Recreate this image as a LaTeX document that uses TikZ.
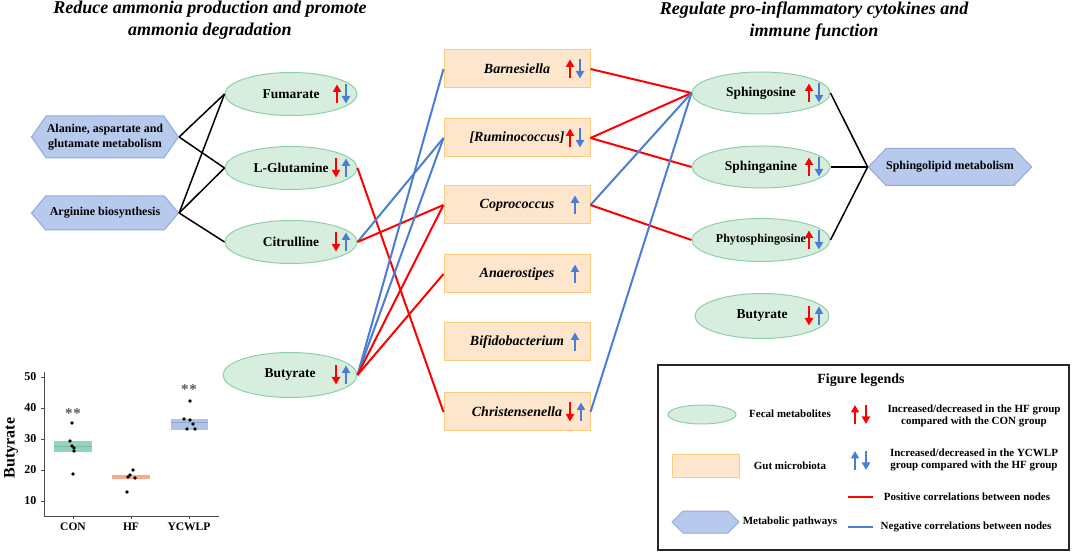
\documentclass[tikz,border=0pt]{standalone}
\usepackage{fontspec}
\setmainfont{Liberation Serif}
\usetikzlibrary{shapes.geometric,shapes.symbols,arrows.meta,calc}
\definecolor{metfill}{HTML}{D7EEDF}
\definecolor{metdraw}{HTML}{8DD0A6}
\definecolor{micfill}{HTML}{FDE6CC}
\definecolor{micdraw}{HTML}{F8CB80}
\definecolor{pwfill}{HTML}{B7C9EC}
\definecolor{pwdraw}{HTML}{8FAADC}
\definecolor{posred}{HTML}{FF0000}
\definecolor{negblue}{HTML}{4A7DD4}
\definecolor{conbox}{HTML}{7FCDB0}
\definecolor{hfbox}{HTML}{F8A98A}
\definecolor{ycbox}{HTML}{AFC3E8}
\newcommand\arrowUp[3]{\draw[glyph,#1] ($(#2)+(#3,9.5)$) -- ($(#2)+(#3,-9.5)$);}
\newcommand\arrowDn[3]{\draw[glyph,#1] ($(#2)+(#3,-9.5)$) -- ($(#2)+(#3,9.5)$);}
\begin{document}
\begin{tikzpicture}[x=1pt,y=-1pt,
  met/.style={ellipse,draw=metdraw,fill=metfill,line width=1pt,minimum width=132pt,minimum height=43pt,inner sep=0pt,font=\fontsize{13.5}{16}\selectfont\bfseries},
  mic/.style={rectangle,draw=micdraw,fill=micfill,line width=1pt,minimum width=146pt,minimum height=38pt,inner sep=0pt,font=\fontsize{14}{16}\selectfont\bfseries\itshape},
  pw/.style={signal,signal to=west and east,signal pointer angle=110,draw=pwdraw,fill=pwfill,line width=1pt,minimum width=147pt,minimum height=42pt,inner sep=0pt,align=center,font=\fontsize{12}{15}\selectfont\bfseries},
  poslink/.style={draw=posred,line width=2pt},
  neglink/.style={draw=negblue,line width=2pt},
  blk/.style={draw=black,line width=1.5pt},
  glyph/.style={line width=2.8pt,-{Triangle[width=8pt,length=7.5pt]}},
  ttl/.style={font=\fontsize{18}{21.5}\selectfont\bfseries\itshape,align=center},
  lt/.style={font=\fontsize{11}{11.8}\selectfont\bfseries,align=center},
  tk/.style={font=\fontsize{12}{14}\selectfont\bfseries},
]
\useasboundingbox (0,0) rectangle (1072,553);

% titles
\node[ttl] (t1) at (210,20) {Reduce ammonia production and promote\\ammonia degradation};
\node[ttl] (t2) at (814,21) {Regulate pro-inflammatory cytokines and\\immune function};

% pathways left
\node[pw] (aam) at (105,137) {Alanine, aspartate and\\glutamate metabolism};
\node[pw,minimum height=34pt,signal pointer angle=100] (arg) at (105,213) {Arginine biosynthesis};

% metabolites left
\node[met] (fum) at (291,94) {Fumarate};
\node[met] (glu) at (291,168) {L-Glutamine};
\node[met] (cit) at (291,242) {Citrulline};
\node[met,minimum width=134pt,minimum height=45pt] (but) at (290,375) {Butyrate};

% microbiota
\node[mic] (bar) at (517,69) {Barnesiella};
\node[mic] (rum) at (517,138) {[Ruminococcus]};
\node[mic] (cop) at (517,205) {Coprococcus};
\node[mic] (ana) at (517,274) {Anaerostipes};
\node[mic] (bif) at (517,342) {Bifidobacterium};
\node[mic] (chr) at (517,412) {Christensenella};

% metabolites right
\node[met,minimum width=138pt,minimum height=42pt] (sgo) at (761,93) {Sphingosine};
\node[met,minimum width=138pt,minimum height=42pt] (sga) at (761,167) {Sphinganine};
\node[met,minimum width=138pt,minimum height=43pt,font=\fontsize{12}{14}\selectfont\bfseries] (phy) at (761,240) {Phytosphingosine};
\node[met,minimum width=134pt,minimum height=45pt] (but2) at (762,316) {Butyrate};
\node[pw,minimum width=145pt,minimum height=37pt,signal pointer angle=92] (sph) at (950,167) {Sphingolipid metabolism};

% black pathway links
\draw[blk] (aam.east) -- (fum.west);
\draw[blk] (aam.east) -- (glu.west);
\draw[blk] (arg.east) -- (fum.west);
\draw[blk] (arg.east) -- (glu.west);
\draw[blk] (arg.east) -- (cit.west);
\draw[blk] (sgo.east) -- (sph.west);
\draw[blk] (sga.east) -- (sph.west);
\draw[blk] (phy.east) -- (sph.west);

% correlations left
\draw[poslink] (glu.east) -- (chr.west);
\draw[neglink] (cit.east) -- (rum.west);
\draw[poslink] (cit.east) -- (cop.west);
\draw[neglink] (but.east) -- (bar.west);
\draw[neglink] (but.east) -- (rum.west);
\draw[poslink] (but.east) -- (cop.west);
\draw[poslink] (but.east) -- (ana.west);
% correlations right
\draw[poslink] (bar.east) -- (sgo.west);
\draw[poslink] (rum.east) -- (sgo.west);
\draw[poslink] (rum.east) -- (sga.west);
\draw[neglink] (cop.east) -- (sgo.west);
\draw[poslink] (cop.east) -- (phy.west);
\draw[neglink] (chr.east) -- (sgo.west);

% change arrows
\arrowUp{posred}{fum}{46}\arrowDn{negblue}{fum}{55}
\arrowDn{posred}{glu}{45}\arrowUp{negblue}{glu}{55}
\arrowDn{posred}{cit}{45}\arrowUp{negblue}{cit}{55}
\arrowDn{posred}{but}{46}\arrowUp{negblue}{but}{56}
\arrowUp{posred}{bar}{53}\arrowDn{negblue}{bar}{63}
\arrowUp{posred}{rum}{53}\arrowDn{negblue}{rum}{63}
\arrowUp{negblue}{cop}{58}
\arrowUp{negblue}{ana}{58}
\arrowUp{negblue}{bif}{58}
\arrowDn{posred}{chr}{53}\arrowUp{negblue}{chr}{64}
\arrowUp{posred}{sgo}{48}\arrowDn{negblue}{sgo}{58}
\arrowUp{posred}{sga}{48}\arrowDn{negblue}{sga}{58}
\arrowUp{posred}{phy}{48}\arrowDn{negblue}{phy}{58}
\arrowDn{posred}{but2}{47}\arrowUp{negblue}{but2}{57}

% legend
\node[draw=black!85,line width=1.3pt,minimum width=411pt,minimum height=185pt,inner sep=0pt] (leg) at (863.5,457.5) {};
\node[font=\fontsize{14}{16}\selectfont\bfseries] (legt) at (861,380) {Figure legends};
\node[met,minimum width=68pt,minimum height=19pt] (lm) at (702,414.5) {};
\node[mic,minimum width=67pt,minimum height=23pt] (lb) at (705.5,466.5) {};
\node[pw,minimum width=67pt,minimum height=22pt,signal pointer angle=90] (lp) at (705.5,522) {};
\node[lt] (lmt) at (790,414) {Fecal metabolites};
\node[lt] (lbt) at (790,466) {Gut microbiota};
\node[lt] (lpt) at (790,522) {Metabolic pathways};
\coordinate (la) at (860.5,414.5);
\coordinate (lbb) at (860.5,460.5);
\arrowUp{posred}{la}{-5.5}\arrowDn{posred}{la}{5.5}
\arrowUp{negblue}{lbb}{-5.5}\arrowDn{negblue}{lbb}{5.5}
\node[lt] (l1) at (974,415.5) {Increased/decreased in the HF group\\compared with the CON group};
\node[lt] (l2) at (974,459.5) {Increased/decreased in the YCWLP\\group compared with the HF group};
\coordinate (lr1) at (848,497); \coordinate (lr2) at (873,497);
\coordinate (lg1) at (848,527); \coordinate (lg2) at (873,527);
\draw[poslink] (lr1) -- (lr2);
\draw[neglink] (lg1) -- (lg2);
\node[lt] (l3) at (967,497) {Positive correlations between nodes};
\node[lt] (l4) at (966,527) {Negative correlations between nodes};

% inset plot
\draw[line width=0.8pt,gray!60!black] (44,372) -- (44,516) -- (219,516);
\foreach \v/\yy in {10/501,20/470,30/439,40/408,50/377}{
  \draw[line width=0.8pt,gray!60!black] (41,\yy) -- (44,\yy);
  \node[tk,anchor=east] at (40,\yy) {\v};
}
\foreach \xx/\lab in {73/CON,131/HF,189/YCWLP}{
  \draw[line width=0.8pt,gray!60!black] (\xx,516) -- (\xx,519);
  \node[tk,font=\fontsize{11.5}{14}\selectfont\bfseries] at (\xx,527) {\lab};
}
\node[rotate=90,font=\fontsize{16}{18}\selectfont\bfseries] at (11,448) {Butyrate};
\fill[conbox,opacity=0.85] (54,441) rectangle (92,452);
\draw[conbox!70!black,opacity=0.4,line width=0.5pt] (54,446.5) -- (92,446.5);
\fill[hfbox] (112,475) rectangle (150,479.5);
\fill[ycbox] (171,419) rectangle (208,430);
\draw[ycbox!70!black,opacity=0.5,line width=0.5pt] (171,422) -- (208,422);
\foreach \px/\py in {72/423,70/441,72/446,74/448,74/451,73/474,
  133/470,130/475,128/477,135/478,127/492,
  190/401,184/419,190/420,193/424,187/429,195/429}{
  \fill[black] (\px,\py) circle (1.8);
}
\node[font=\fontsize{15}{16}\selectfont\bfseries,text=gray!70!black] at (73,414) {*\kern1pt*};
\node[font=\fontsize{15}{16}\selectfont\bfseries,text=gray!70!black] at (189,390) {*\kern1pt*};
\end{tikzpicture}
\end{document}
